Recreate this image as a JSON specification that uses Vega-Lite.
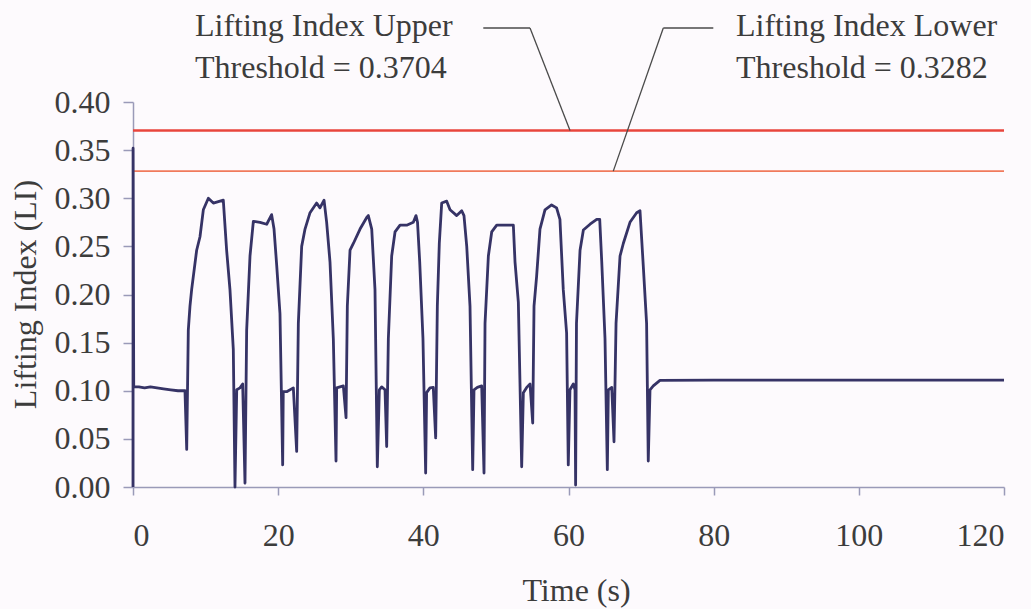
{
  "$schema": "https://vega.github.io/schema/vega-lite/v6.json",
  "width": 871,
  "height": 385,
  "autosize": {"type": "none"},
  "padding": {"left": 133, "top": 102, "right": 27, "bottom": 122},
  "background": "#fdfafd",
  "config": {
    "view": {"stroke": null},
    "font": "Liberation Serif",
    "axis": {
      "domainColor": "#9a9ab8",
      "tickColor": "#9a9ab8",
      "domainWidth": 1.5,
      "tickWidth": 1.5,
      "grid": false,
      "labelFont": "Liberation Serif",
      "labelFontSize": 32,
      "labelColor": "#3c3c3c",
      "titleFont": "Liberation Serif",
      "titleFontSize": 32,
      "titleFontWeight": "normal",
      "titleColor": "#3c3c3c"
    }
  },
  "datasets": {
    "series": [
      {"t": 0, "v": 0.0}, {"t": 0.01, "v": 0.352}, {"t": 0.1, "v": 0.104},
      {"t": 0.8, "v": 0.104}, {"t": 1.6, "v": 0.103}, {"t": 2.4, "v": 0.104}, {"t": 3.3, "v": 0.103},
      {"t": 4.2, "v": 0.102}, {"t": 5.2, "v": 0.101}, {"t": 6.2, "v": 0.1}, {"t": 7.16, "v": 0.1},
      {"t": 7.4, "v": 0.039}, {"t": 7.62, "v": 0.163}, {"t": 7.85, "v": 0.188}, {"t": 8.08, "v": 0.205},
      {"t": 8.77, "v": 0.246}, {"t": 9.23, "v": 0.26}, {"t": 9.69, "v": 0.288}, {"t": 10.38, "v": 0.3},
      {"t": 11.07, "v": 0.295}, {"t": 11.99, "v": 0.297}, {"t": 12.44, "v": 0.298}, {"t": 12.9, "v": 0.246},
      {"t": 13.36, "v": 0.205}, {"t": 13.82, "v": 0.143}, {"t": 14.05, "v": 0.0}, {"t": 14.29, "v": 0.101},
      {"t": 14.74, "v": 0.103}, {"t": 15.11, "v": 0.107}, {"t": 15.43, "v": 0.004}, {"t": 15.66, "v": 0.163},
      {"t": 16.12, "v": 0.24}, {"t": 16.58, "v": 0.276}, {"t": 17.5, "v": 0.275}, {"t": 18.42, "v": 0.273},
      {"t": 19.1, "v": 0.283}, {"t": 19.43, "v": 0.268}, {"t": 19.8, "v": 0.23}, {"t": 20.25, "v": 0.18},
      {"t": 20.62, "v": 0.023}, {"t": 20.7, "v": 0.099}, {"t": 21.17, "v": 0.099}, {"t": 22.09, "v": 0.103},
      {"t": 22.55, "v": 0.037}, {"t": 22.78, "v": 0.17}, {"t": 23.24, "v": 0.25}, {"t": 23.7, "v": 0.268},
      {"t": 24.39, "v": 0.285}, {"t": 25.3, "v": 0.295}, {"t": 25.76, "v": 0.29}, {"t": 26.32, "v": 0.298},
      {"t": 26.68, "v": 0.275}, {"t": 27.14, "v": 0.234}, {"t": 27.6, "v": 0.154}, {"t": 27.97, "v": 0.027},
      {"t": 28.06, "v": 0.103}, {"t": 28.98, "v": 0.105}, {"t": 29.35, "v": 0.072}, {"t": 29.53, "v": 0.188},
      {"t": 29.9, "v": 0.246}, {"t": 30.36, "v": 0.253}, {"t": 31.28, "v": 0.268}, {"t": 32.2, "v": 0.28},
      {"t": 32.42, "v": 0.282}, {"t": 32.89, "v": 0.268}, {"t": 33.34, "v": 0.205}, {"t": 33.66, "v": 0.021},
      {"t": 33.94, "v": 0.101}, {"t": 34.26, "v": 0.104}, {"t": 34.72, "v": 0.101}, {"t": 34.95, "v": 0.042},
      {"t": 35.18, "v": 0.154}, {"t": 35.64, "v": 0.24}, {"t": 36.1, "v": 0.265}, {"t": 36.79, "v": 0.272},
      {"t": 37.71, "v": 0.272}, {"t": 38.62, "v": 0.275}, {"t": 38.99, "v": 0.282}, {"t": 39.2, "v": 0.275},
      {"t": 39.5, "v": 0.234}, {"t": 39.95, "v": 0.154}, {"t": 40.32, "v": 0.0145}, {"t": 40.45, "v": 0.098},
      {"t": 40.92, "v": 0.103}, {"t": 41.37, "v": 0.1035}, {"t": 41.7, "v": 0.051}, {"t": 41.93, "v": 0.188},
      {"t": 42.2, "v": 0.253}, {"t": 42.53, "v": 0.295}, {"t": 43.22, "v": 0.297}, {"t": 43.68, "v": 0.288},
      {"t": 44.6, "v": 0.282}, {"t": 45.29, "v": 0.287}, {"t": 45.6, "v": 0.282}, {"t": 45.98, "v": 0.25},
      {"t": 46.43, "v": 0.188}, {"t": 46.8, "v": 0.018}, {"t": 46.98, "v": 0.101}, {"t": 47.44, "v": 0.1035},
      {"t": 48.04, "v": 0.105}, {"t": 48.36, "v": 0.0145}, {"t": 48.5, "v": 0.17}, {"t": 48.96, "v": 0.24},
      {"t": 49.42, "v": 0.265}, {"t": 50.11, "v": 0.272}, {"t": 51.49, "v": 0.272}, {"t": 52.4, "v": 0.272},
      {"t": 52.63, "v": 0.234}, {"t": 53.09, "v": 0.192}, {"t": 53.55, "v": 0.021}, {"t": 53.78, "v": 0.098},
      {"t": 54.24, "v": 0.1035}, {"t": 54.7, "v": 0.107}, {"t": 55.07, "v": 0.0665}, {"t": 55.25, "v": 0.188},
      {"t": 55.61, "v": 0.219}, {"t": 56.07, "v": 0.268}, {"t": 56.76, "v": 0.288}, {"t": 57.67, "v": 0.293},
      {"t": 58.36, "v": 0.29}, {"t": 58.82, "v": 0.278}, {"t": 59.28, "v": 0.205}, {"t": 59.74, "v": 0.16},
      {"t": 59.97, "v": 0.023}, {"t": 60.2, "v": 0.101}, {"t": 60.66, "v": 0.107}, {"t": 60.9, "v": 0.101},
      {"t": 60.98, "v": 0.002}, {"t": 61.1, "v": 0.17}, {"t": 61.59, "v": 0.246}, {"t": 62.05, "v": 0.267},
      {"t": 62.97, "v": 0.273}, {"t": 63.89, "v": 0.278}, {"t": 64.3, "v": 0.278}, {"t": 64.58, "v": 0.234},
      {"t": 65.03, "v": 0.154}, {"t": 65.35, "v": 0.018}, {"t": 65.49, "v": 0.101}, {"t": 65.96, "v": 0.1035},
      {"t": 66.27, "v": 0.047}, {"t": 66.55, "v": 0.17}, {"t": 67.1, "v": 0.24}, {"t": 67.55, "v": 0.253},
      {"t": 68.47, "v": 0.275}, {"t": 69.39, "v": 0.285}, {"t": 69.85, "v": 0.287}, {"t": 70.3, "v": 0.23},
      {"t": 70.76, "v": 0.17}, {"t": 70.99, "v": 0.027}, {"t": 71.23, "v": 0.101}, {"t": 71.68, "v": 0.105},
      {"t": 72.6, "v": 0.1108}, {"t": 80, "v": 0.111}, {"t": 100, "v": 0.111}, {"t": 120, "v": 0.111}
    ],
    "thresholds": [
      {"kind": "Upper", "v": 0.3704},
      {"kind": "Lower", "v": 0.3282}
    ],
    "leaders": [
      {"t": 48.26, "v": 0.4769, "t2": 54.7, "v2": 0.4769},
      {"t": 54.7, "v": 0.4769, "t2": 60.21, "v2": 0.3704},
      {"t": 79.95, "v": 0.4769, "t2": 73.06, "v2": 0.4769},
      {"t": 73.06, "v": 0.4769, "t2": 66.17, "v2": 0.3282}
    ],
    "notes": [
      {"t": 8.54, "v": 0.4682, "text": "Lifting Index Upper"},
      {"t": 8.54, "v": 0.4249, "text": "Threshold = 0.3704"},
      {"t": 83.08, "v": 0.4682, "text": "Lifting Index Lower"},
      {"t": 83.08, "v": 0.4249, "text": "Threshold = 0.3282"}
    ]
  },
  "layer": [
    {
      "data": {"name": "thresholds"},
      "mark": {"type": "rule"},
      "encoding": {
        "y": {"field": "v", "type": "quantitative", "scale": {"domain": [0, 0.4]}},
        "color": {"field": "kind", "type": "nominal", "scale": {"domain": ["Upper", "Lower"], "range": ["#e8453c", "#f07a5c"]}, "legend": null},
        "strokeWidth": {"field": "kind", "type": "nominal", "scale": {"domain": ["Upper", "Lower"], "range": [2.6, 1.7]}, "legend": null}
      }
    },
    {
      "data": {"name": "series"},
      "mark": {"type": "line", "color": "#363366", "strokeWidth": 2.8, "strokeJoin": "round"},
      "encoding": {
        "x": {
          "field": "t", "type": "quantitative",
          "scale": {"domain": [0, 120], "nice": false},
          "axis": {
            "values": [0, 20, 40, 60, 80, 100, 120],
            "tickSize": 8,
            "labelPadding": 50,
            "labelBaseline": "alphabetic",
            "title": "Time (s)",
            "titleX": 443,
            "titleY": 113,
            "titleBaseline": "alphabetic",
            "titleAnchor": null
          }
        },
        "y": {
          "field": "v", "type": "quantitative",
          "scale": {"domain": [0, 0.4], "nice": false},
          "axis": {
            "values": [0, 0.05, 0.1, 0.15, 0.2, 0.25, 0.3, 0.35, 0.4],
            "format": ".2f",
            "tickSize": 10,
            "labelPadding": 13,
            "title": "Lifting Index (LI)",
            "titleX": -98,
            "titleY": 192,
            "titleAngle": -90,
            "titleBaseline": "alphabetic",
            "titleAlign": "center"
          }
        }
      }
    },
    {
      "data": {"name": "leaders"},
      "mark": {"type": "rule", "color": "#4a4a4a", "strokeWidth": 1.3},
      "encoding": {
        "x": {"field": "t", "type": "quantitative"},
        "y": {"field": "v", "type": "quantitative"},
        "x2": {"field": "t2"},
        "y2": {"field": "v2"}
      }
    },
    {
      "data": {"name": "notes"},
      "mark": {"type": "text", "align": "left", "baseline": "alphabetic", "font": "Liberation Serif", "fontSize": 32, "color": "#3c3c3c"},
      "encoding": {
        "x": {"field": "t", "type": "quantitative"},
        "y": {"field": "v", "type": "quantitative"},
        "text": {"field": "text"}
      }
    }
  ]
}
